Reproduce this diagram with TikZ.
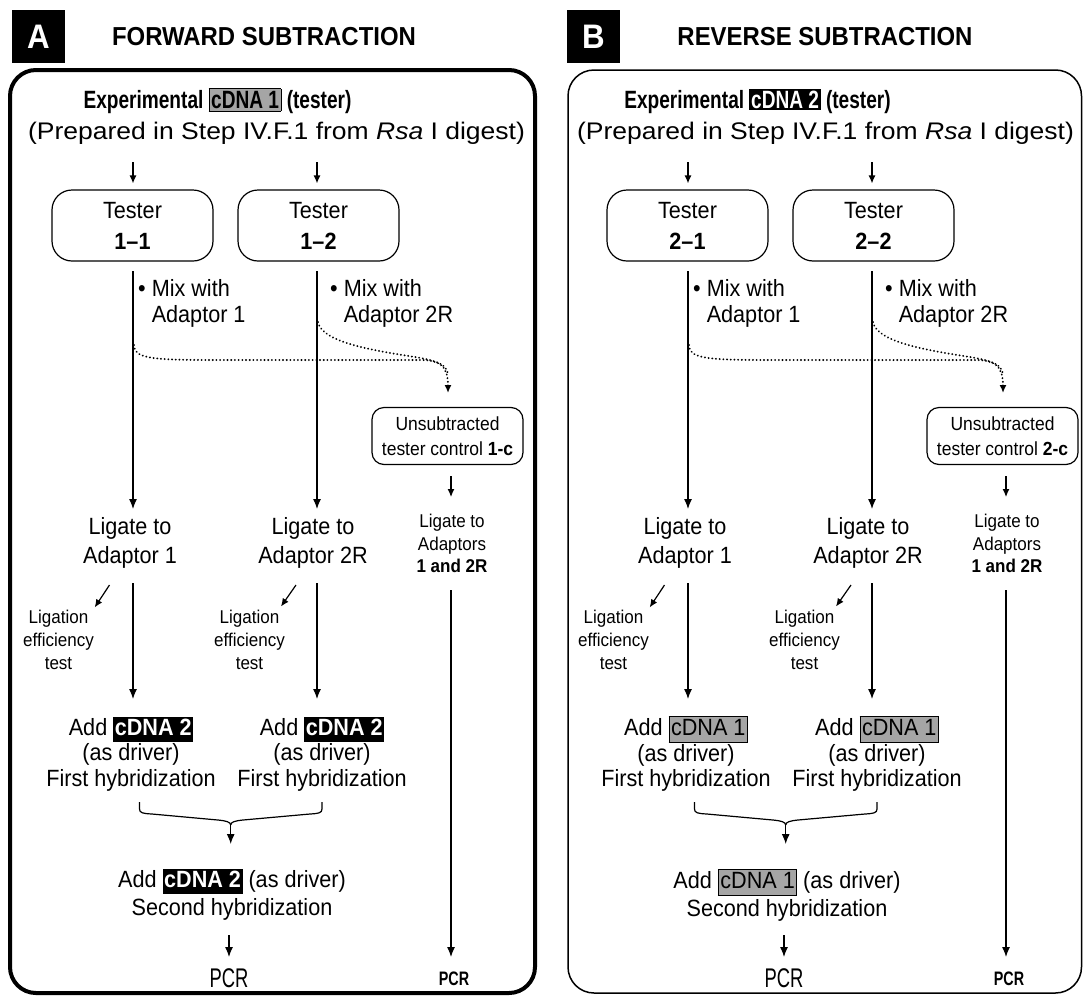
\documentclass[tikz,border=0pt]{standalone}
\usepackage{fontspec}
\setmainfont{Liberation Sans}[FakeStretch=0.92]
\usepackage{graphicx}
\usetikzlibrary{arrows.meta}
\definecolor{cgray}{RGB}{165,165,165}
\newcommand\boxG[2]{{\setlength\fboxsep{#1}\setlength\fboxrule{0.9pt}\fcolorbox{black}{cgray}{#2}}}
\newcommand\boxB[2]{{\setlength\fboxsep{#1}\colorbox{black}{\color{white}#2}}}
\tikzset{
 txt/.style={align=center, inner sep=0pt, font=\fontsize{23}{27}\selectfont},
 small/.style={align=center, inner sep=0pt, font=\fontsize{18.5}{22.7}\selectfont},
 tbox/.style={draw, line width=1.2pt, rounded corners=20pt, minimum width=161pt, minimum height=71pt, align=center, inner sep=0pt, font=\fontsize{23.5}{31}\selectfont},
 ubox/.style={draw, line width=1.2pt, rounded corners=12pt, minimum width=151pt, minimum height=57pt, align=center, inner sep=0pt, font=\fontsize{19}{24.5}\selectfont},
 arr/.style={line width=1.2pt, -{Latex[length=10pt,width=8pt]}},
 sarr/.style={line width=1.2pt, -{Latex[length=8pt,width=7pt]}},
 ln/.style={line width=1.2pt},
 dots/.style={line width=2pt, dash pattern=on 0.1pt off 3.6pt, line cap=round},
 sq/.style={fill=black, minimum width=53pt, minimum height=53pt, inner sep=0pt, text=white, font=\fontsize{34}{34}\selectfont\bfseries},
 ttl/.style={inner sep=0pt, font=\fontsize{26}{30}\selectfont\bfseries},
}
% #1 prefix, #2 xshift, #3 header box, #4 number, #5 driver box, #6 header-1 x, #7 header-2 x
\newcommand\panelbody[7]{%
\begin{scope}[xshift=#2]
\node[txt, font=\fontsize{25}{27}\selectfont\bfseries] (#1h1) at (#6,101) {\scalebox{0.83}[1]{Experimental #3 (tester)}};
\node[txt, font=\fontsize{24}{27}\selectfont] (#1h2) at (#7,133) {\scalebox{1.2}[1]{(Prepared in Step IV.F.1 from \textit{Rsa} I digest)}};
\coordinate (#1a1) at (133,162);
\coordinate (#1a2) at (317,162);
\node[tbox] (#1t1) at (132.5,225.5) {Tester\\\textbf{#4--1}};
\node[tbox] (#1t2) at (318.5,225.5) {Tester\\\textbf{#4--2}};
\draw[sarr, shorten >=6pt] (#1a1) -- (#1a1 |- #1t1.north);
\draw[sarr, shorten >=6pt] (#1a2) -- (#1a2 |- #1t2.north);
\node[txt, align=left, anchor=north west, font=\fontsize{23.5}{26}\selectfont] (#1m1) at (138,279) {\textbullet\ Mix with\\\hphantom{\textbullet\ }Adaptor 1};
\node[txt, align=left, anchor=north west, font=\fontsize{23.5}{26}\selectfont] (#1m2) at (330,279) {\textbullet\ Mix with\\\hphantom{\textbullet\ }Adaptor 2R};
\coordinate (#1v1a) at (133,271); \coordinate (#1v1b) at (133,509);
\coordinate (#1v2a) at (317,271); \coordinate (#1v2b) at (317,509);
\draw[arr] (#1v1a) -- (#1v1b);
\draw[arr] (#1v2a) -- (#1v2b);
\node[ubox] (#1u) at (447.5,436) {Unsubtracted\\tester control \textbf{#4-c}};
\coordinate (#1q1) at (134,345);
\coordinate (#1q2) at (318,322);
\coordinate (#1q3) at (448,393);
\draw[dots, -{Latex[length=8pt,width=7pt]}] (#1q1) .. controls (134,358) and (150,360) .. (210,360) -- (420,360) .. controls (440,360) and (448,366) .. (#1q3);
\draw[dots] (#1q2) .. controls (322,342) and (370,350) .. (415,357) .. controls (438,361) and (446,364) .. (448,374);
\coordinate (#1ua) at (451,476); \coordinate (#1ub) at (451,497);
\draw[sarr] (#1ua) -- (#1ub);
\node[txt, font=\fontsize{23.5}{29}\selectfont] (#1g1) at (130,542.5) {Ligate to\\Adaptor 1};
\node[txt, font=\fontsize{23.5}{29}\selectfont] (#1g2) at (313,542.5) {Ligate to\\Adaptor 2R};
\node[small] (#1g3) at (452,543.5) {Ligate to\\Adaptors\\\textbf{1 and 2R}};
\node[small] (#1e1) at (58.5,640) {Ligation\\efficiency\\test};
\node[small] (#1e2) at (249.5,640) {Ligation\\efficiency\\test};
\coordinate (#1k1a) at (109.5,585); \coordinate (#1k1b) at (94.7,607.4);
\coordinate (#1k2a) at (296,585); \coordinate (#1k2b) at (281,606.5);
\draw[sarr] (#1k1a) -- (#1k1b);
\draw[sarr] (#1k2a) -- (#1k2b);
\coordinate (#1w1a) at (133,583); \coordinate (#1w1b) at (133,699);
\coordinate (#1w2a) at (317,583); \coordinate (#1w2b) at (317,699);
\draw[arr] (#1w1a) -- (#1w1b);
\draw[arr] (#1w2a) -- (#1w2b);
\node[txt, font=\fontsize{23.5}{25.5}\selectfont] (#1x1) at (131,754) {Add #5\\(as driver)\\First hybridization};
\node[txt, font=\fontsize{23.5}{25.5}\selectfont] (#1x2) at (322,754) {Add #5\\(as driver)\\First hybridization};
\coordinate (#1b1) at (139.5,802); \coordinate (#1b2) at (322,802);
\coordinate (#1bc) at (230.7,825); \coordinate (#1bt) at (230.7,844);
\draw[ln] (#1b1) -- (139.5,809) .. controls (139.5,813) and (143,813.5) .. (152,814) -- (218,820) .. controls (226,820.8) and (230.7,822) .. (#1bc);
\draw[ln] (#1b2) -- (322,809) .. controls (322,813) and (318.5,813.5) .. (310,814) -- (243,820) .. controls (235,820.8) and (230.7,822) .. (#1bc);
\draw[arr] (#1bc) -- (#1bt);
\node[txt, font=\fontsize{23.5}{28}\selectfont] (#1x3) at (232,895) {Add #5 (as driver)\\Second hybridization};
\coordinate (#1pa) at (229,935); \coordinate (#1pb) at (229,957);
\draw[arr] (#1pa) -- (#1pb);
\node[txt, font=\fontsize{27}{28}\selectfont] (#1p1) at (229,978) {\scalebox{0.74}[1]{PCR}};
\coordinate (#1ra) at (451,590); \coordinate (#1rb) at (451,957);
\draw[arr] (#1ra) -- (#1rb);
\node[txt, font=\fontsize{19.5}{22}\selectfont\bfseries] (#1p2) at (454,979) {\scalebox{0.8}[1]{PCR}};
\end{scope}}
\begin{document}
\begin{tikzpicture}[x=1pt,y=-1pt]
\useasboundingbox (0,0) rectangle (1083,996);
\node[sq] (sqA) at (38.5,36.5) {A};
\node[ttl] (tA) at (264,37) {FORWARD SUBTRACTION};
\node[sq] (sqB) at (593.5,36.5) {B};
\node[ttl] (tB) at (825,37) {REVERSE SUBTRACTION};
\draw[line width=4pt, rounded corners=26pt] (10,70) rectangle (535,993);
\draw[line width=1.5pt, rounded corners=26pt] (568,70) rectangle (1081.5,993);
\panelbody{A}{0}{\boxG{2pt}{cDNA 1}}{1}{\boxB{1.5pt}{\rule[-5pt]{0pt}{22pt}\textbf{cDNA 2}}}{217.5}{276.5}
\panelbody{B}{555}{\boxB{2pt}{cDNA 2}}{2}{\boxG{1.5pt}{\rule[-5pt]{0pt}{22pt}cDNA 1}}{202.5}{270.5}
\end{tikzpicture}
\end{document}
